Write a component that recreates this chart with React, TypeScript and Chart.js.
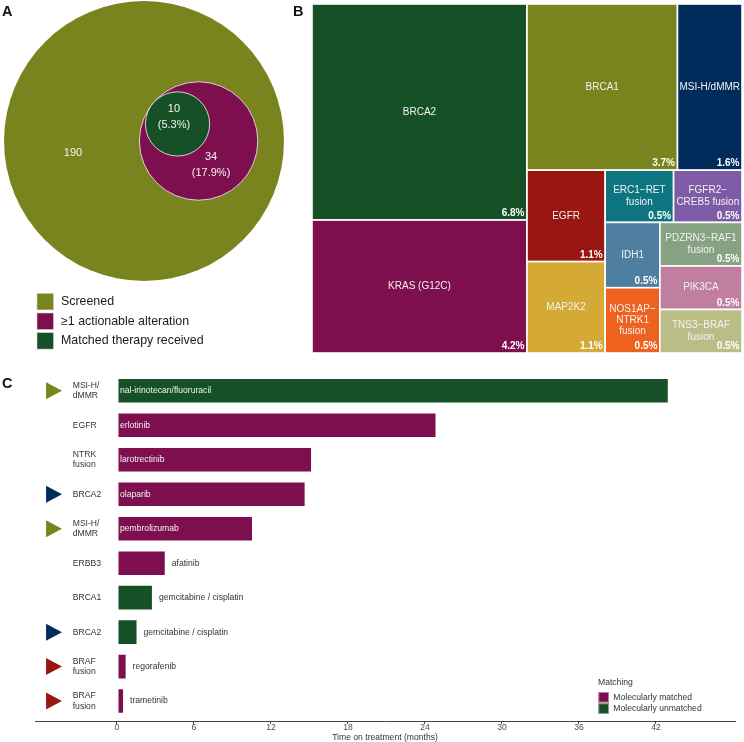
import React, { useEffect, useRef } from 'react';
import { Chart, registerables } from 'chart.js';

Chart.register(...registerables);

const FONT = '"Liberation Sans", Arial, Helvetica, sans-serif';
Chart.defaults.font.family = FONT;

// ---------------- Panel A data ----------------
const vennNames = ['Screened', '≥1 actionable alteration', 'Matched therapy received'];
const vennCounts = [190, 34, 10];
const vennColors = ['#7A841F', '#7E0F4F', '#165027'];

// ---------------- Panel B data ----------------
const treeNames = [
  'BRCA2', 'KRAS (G12C)', 'BRCA1', 'MSI-H/dMMR', 'EGFR', 'MAP2K2',
  'ERC1−RET\nfusion', 'FGFR2−\nCREB5 fusion', 'IDH1', 'NOS1AP−\nNTRK1\nfusion',
  'PDZRN3−RAF1\nfusion', 'PIK3CA', 'TNS3−BRAF\nfusion',
];
const treeCounts = [13, 8, 7, 3, 2, 2, 1, 1, 1, 1, 1, 1, 1];
const treeColors = [
  '#165027', '#7E0F4F', '#7A841F', '#002C5C', '#9A1612', '#D5A936',
  '#0C7580', '#7D5BA6', '#4E7FA1', '#EF611F', '#86A283', '#C07FA0', '#BABE86',
];

// ---------------- Panel C data ----------------
const rowGenes = ['MSI-H/\ndMMR', 'EGFR', 'NTRK\nfusion', 'BRCA2', 'MSI-H/\ndMMR', 'ERBB3', 'BRCA1', 'BRCA2', 'BRAF\nfusion', 'BRAF\nfusion'];
const rowTherapies = ['nal-irinotecan/fluoruracil', 'erlotinib', 'larotrectinib', 'olaparib', 'pembrolizumab', 'afatinib', 'gemcitabine / cisplatin', 'gemcitabine / cisplatin', 'regorafenib', 'trametinib'];
const rowMonths = [43.0, 24.9, 15.2, 14.7, 10.6, 3.8, 2.8, 1.6, 0.75, 0.55];
const rowMatching = ['unmatched', 'matched', 'matched', 'matched', 'matched', 'matched', 'unmatched', 'unmatched', 'matched', 'matched'];
const rowMarkers = ['MSI-H/dMMR', '', '', 'BRCA2', 'MSI-H/dMMR', '', '', 'BRCA2', 'BRAF', 'BRAF'];
const markerColors: Record<string, string> = { 'MSI-H/dMMR': '#7A841F', BRCA2: '#002C5C', BRAF: '#9A1612' };
const xTicks = [0, 6, 12, 18, 24, 30, 36, 42];
const matchNames = ['Molecularly matched', 'Molecularly unmatched'];
const matchColors: Record<string, string> = { matched: '#7E0F4F', unmatched: '#165027' };

// ---------------- layout constants ----------------
const VENN_INNER_OFFSET = 0.39;
const VENN_TOUCH_ANGLE = (141 * Math.PI) / 180;
const VENN_LABEL_POS = [
  { x: -0.507, y: -0.086 },
  { x: 0.479, y: -0.171 },
  { x: 0.214, y: 0.171 },
];
const C_X_MIN = -6.39;
const C_X_MAX = 48.16;
const C_GENE_X = -3.45;
const C_MARK_X0 = -5.53;
const C_MARK_X1 = -4.29;
const C_INSIDE_MIN = 10;

function panelLetter(ctx: CanvasRenderingContext2D, t: string, x: number, y: number) {
  ctx.save();
  ctx.font = `bold 14.5px ${FONT}`;
  ctx.fillStyle = '#111';
  ctx.textAlign = 'left';
  ctx.textBaseline = 'middle';
  ctx.fillText(t, x, y);
  ctx.restore();
}

function squarify(values: number[], x: number, y: number, w: number, h: number) {
  const total = values.reduce((a, b) => a + b, 0);
  const areas = values.map((v) => (v / total) * w * h);
  const out: { x: number; y: number; w: number; h: number }[] = [];
  let i = 0;
  while (i < areas.length) {
    const side = Math.min(w, h);
    const meanAspect = (row: number[]) => {
      const s = row.reduce((a, b) => a + b, 0);
      const t = s / side;
      return row.reduce((acc, a) => {
        const l = a / t;
        return acc + Math.max(l / t, t / l);
      }, 0) / row.length;
    };
    let row = [areas[i]];
    let best = meanAspect(row);
    let j = i + 1;
    while (j < areas.length) {
      const cand = row.concat(areas[j]);
      const r = meanAspect(cand);
      if (r <= best) {
        row = cand;
        best = r;
        j++;
      } else break;
    }
    const s = row.reduce((a, b) => a + b, 0);
    const t = s / side;
    const vertical = w >= h;
    let off = 0;
    row.forEach((a) => {
      const l = a / t;
      if (vertical) out.push({ x, y: y + off, w: t, h: l });
      else out.push({ x: x + off, y, w: l, h: t });
      off += l;
    });
    if (vertical) {
      x += t;
      w -= t;
    } else {
      y += t;
      h -= t;
    }
    i = j;
  }
  return out;
}

function PanelA() {
  const ref = useRef<HTMLCanvasElement>(null);
  useEffect(() => {
    const total = vennCounts[0];
    const radii = vennCounts.map((n) => Math.sqrt(n / total));
    const c1 = { x: VENN_INNER_OFFSET, y: 0 };
    const d = radii[1] - radii[2];
    const c2 = { x: c1.x + d * Math.cos(VENN_TOUCH_ANGLE), y: c1.y + d * Math.sin(VENN_TOUCH_ANGLE) };
    const centers = [{ x: 0, y: 0 }, c1, c2];

    const labelsPlugin = {
      id: 'vennLabels',
      afterDatasetsDraw(chart: any) {
        const ctx = chart.ctx as CanvasRenderingContext2D;
        const xs = chart.scales.x;
        const ys = chart.scales.y;
        ctx.save();
        ctx.fillStyle = '#F4F4F4';
        ctx.font = `11px ${FONT}`;
        ctx.textAlign = 'center';
        ctx.textBaseline = 'middle';
        vennCounts.forEach((n, i) => {
          const px = xs.getPixelForValue(VENN_LABEL_POS[i].x);
          const py = ys.getPixelForValue(VENN_LABEL_POS[i].y);
          if (i === 0) {
            ctx.fillText(String(n), px, py);
          } else {
            const pct = `(${((n / total) * 100).toFixed(1)}%)`;
            ctx.fillText(String(n), px, py - 8);
            ctx.fillText(pct, px, py + 8);
          }
        });
        // legend
        ctx.textAlign = 'left';
        ctx.font = `12.4px ${FONT}`;
        vennNames.forEach((name, i) => {
          const yc = 301.7 + i * 19.6;
          ctx.fillStyle = vennColors[i];
          ctx.fillRect(37, yc - 8.3, 16.5, 16.5);
          ctx.strokeStyle = '#D0D0D0';
          ctx.lineWidth = 0.6;
          ctx.strokeRect(37, yc - 8.3, 16.5, 16.5);
          ctx.fillStyle = '#1A1A1A';
          ctx.fillText(name, 61, yc);
        });
        ctx.restore();
        panelLetter(ctx, 'A', 2, 12);
      },
    };

    const chart = new Chart(ref.current as HTMLCanvasElement, {
      type: 'bubble',
      data: {
        datasets: vennCounts.map((n, i) => ({
          label: vennNames[i],
          data: [{ x: centers[i].x, y: centers[i].y, r: 0 }],
          backgroundColor: vennColors[i],
          borderColor: i === 0 ? vennColors[0] : 'rgba(235,235,235,0.85)',
          borderWidth: i === 0 ? 0 : 1,
          order: 3 - i,
          clip: false,
        })) as any,
      },
      options: {
        animation: false,
        responsive: false,
        events: [],
        layout: { autoPadding: false, padding: { left: 4, top: 1, right: 16, bottom: 79 } },
        plugins: { legend: { display: false }, tooltip: { enabled: false } },
        scales: {
          x: { type: 'linear', min: -1, max: 1, display: false },
          y: { type: 'linear', min: -1, max: 1, display: false },
        },
      },
      plugins: [labelsPlugin],
    });
    // radius in pixels derived from the data scale (1 unit = outer radius)
    const ppu = chart.scales.x.getPixelForValue(1) - chart.scales.x.getPixelForValue(0);
    chart.data.datasets.forEach((ds: any, i: number) => {
      ds.data[0].r = radii[i] * ppu;
    });
    chart.update();
    return () => chart.destroy();
  }, []);
  return <canvas ref={ref} width={300} height={360} style={{ position: 'absolute', left: 0, top: 0 }} />;
}

function PanelB() {
  const ref = useRef<HTMLCanvasElement>(null);
  useEffect(() => {
    const total = vennCounts[0];
    const treemapPlugin = {
      id: 'treemap',
      afterDatasetsDraw(chart: any) {
        const ctx = chart.ctx as CanvasRenderingContext2D;
        const xs = chart.scales.x;
        const ys = chart.scales.y;
        const x0 = xs.getPixelForValue(0);
        const x1 = xs.getPixelForValue(1);
        const y0 = ys.getPixelForValue(1);
        const y1 = ys.getPixelForValue(0);
        const rects = squarify(treeCounts, x0, y0, x1 - x0, y1 - y0);
        ctx.save();
        rects.forEach((r, i) => {
          ctx.fillStyle = treeColors[i];
          ctx.fillRect(r.x, r.y, r.w, r.h);
          ctx.strokeStyle = '#FFFFFF';
          ctx.lineWidth = 1.6;
          ctx.strokeRect(r.x, r.y, r.w, r.h);
          // name
          ctx.fillStyle = '#F2F2F2';
          ctx.font = `10px ${FONT}`;
          ctx.textAlign = 'center';
          ctx.textBaseline = 'middle';
          const lines = treeNames[i].split('\n');
          const lh = 11.2;
          lines.forEach((ln, k) => {
            ctx.fillText(ln, r.x + r.w / 2, r.y + r.h / 2 + (k - (lines.length - 1) / 2) * lh);
          });
          // percent
          ctx.font = `bold 10px ${FONT}`;
          ctx.textAlign = 'right';
          ctx.textBaseline = 'bottom';
          ctx.fillStyle = '#FFFFFF';
          ctx.fillText(`${((treeCounts[i] / total) * 100).toFixed(1)}%`, r.x + r.w - 2.5, r.y + r.h - 1.5);
        });
        ctx.restore();
        panelLetter(ctx, 'B', 5, 12);
      },
    };
    const chart = new Chart(ref.current as HTMLCanvasElement, {
      type: 'scatter',
      data: { datasets: [] },
      options: {
        animation: false,
        responsive: false,
        events: [],
        layout: { padding: { left: 24, top: 4, right: 2, bottom: 7 } },
        plugins: { legend: { display: false }, tooltip: { enabled: false } },
        scales: {
          x: { type: 'linear', min: 0, max: 1, display: false },
          y: { type: 'linear', min: 0, max: 1, display: false },
        },
      },
      plugins: [treemapPlugin],
    });
    return () => chart.destroy();
  }, []);
  return <canvas ref={ref} width={456} height={360} style={{ position: 'absolute', left: 288, top: 0 }} />;
}

function PanelC() {
  const ref = useRef<HTMLCanvasElement>(null);
  useEffect(() => {
    const annotPlugin = {
      id: 'annot',
      afterDatasetsDraw(chart: any) {
        const ctx = chart.ctx as CanvasRenderingContext2D;
        const xs = chart.scales.x;
        const ys = chart.scales.y;
        ctx.save();
        rowMonths.forEach((v, i) => {
          const yc = ys.getPixelForValue(i);
          // gene label
          ctx.font = `8.6px ${FONT}`;
          ctx.fillStyle = '#333333';
          ctx.textAlign = 'left';
          ctx.textBaseline = 'middle';
          const lines = rowGenes[i].split('\n');
          lines.forEach((ln, k) => {
            ctx.fillText(ln, xs.getPixelForValue(C_GENE_X), yc + (k - (lines.length - 1) / 2) * 10.3);
          });
          // marker
          const m = rowMarkers[i];
          if (m) {
            const mx0 = xs.getPixelForValue(C_MARK_X0);
            const mx1 = xs.getPixelForValue(C_MARK_X1);
            ctx.fillStyle = markerColors[m];
            ctx.beginPath();
            ctx.moveTo(mx0, yc - 8.5);
            ctx.lineTo(mx1, yc);
            ctx.lineTo(mx0, yc + 8.5);
            ctx.closePath();
            ctx.fill();
          }
          // therapy label
          const inside = v >= C_INSIDE_MIN;
          ctx.fillStyle = inside ? '#F4F4F4' : '#333333';
          const tx = inside ? xs.getPixelForValue(0) + 3 : xs.getPixelForValue(v) + 6;
          ctx.fillText(rowTherapies[i], tx, yc);
        });
        // legend
        ctx.font = `8.6px ${FONT}`;
        ctx.fillStyle = '#333333';
        ctx.textAlign = 'left';
        ctx.textBaseline = 'middle';
        ctx.fillText('Matching', 598, 323);
        ['matched', 'unmatched'].forEach((k, i) => {
          const top = 332 + i * 11.3;
          ctx.fillStyle = matchColors[k];
          ctx.fillRect(598.3, top, 10.7, 10.6);
          ctx.strokeStyle = 'rgba(255,255,255,0.45)';
          ctx.lineWidth = 1;
          ctx.strokeRect(598.8, top + 0.5, 9.7, 9.6);
          ctx.fillStyle = '#333333';
          ctx.fillText(matchNames[i], 613.3, top + 5.5);
        });
        ctx.restore();
        panelLetter(ctx, 'C', 2, 23.5);
      },
    };

    const chart = new Chart(ref.current as HTMLCanvasElement, {
      type: 'bar',
      data: {
        datasets: [
          {
            data: rowMonths.map((v, i) => ({ x: v, y: i })),
            backgroundColor: rowMatching.map((m) => matchColors[m]),
            borderColor: 'rgba(255,255,255,0.42)',
            borderWidth: 1,
            borderSkipped: false,
            barPercentage: 0.74,
            categoryPercentage: 1,
          } as any,
        ],
      },
      options: {
        indexAxis: 'y',
        animation: false,
        responsive: false,
        events: [],
        layout: { padding: { left: 35, right: 9, top: 10, bottom: 0 } },
        plugins: { legend: { display: false }, tooltip: { enabled: false } },
        scales: {
          y: {
            type: 'linear',
            offset: false,
            grid: { offset: false },
            min: -0.6,
            max: rowMonths.length - 1 + 0.6,
            reverse: true,
            display: false,
            afterBuildTicks: (axis: any) => {
              axis.ticks = rowMonths.map((_, i) => ({ value: i }));
            },
          },
          x: {
            type: 'linear',
            min: C_X_MIN,
            max: C_X_MAX,
            afterBuildTicks: (axis: any) => {
              axis.ticks = xTicks.map((v) => ({ value: v }));
            },
            grid: { display: true, drawOnChartArea: false, drawTicks: true, tickLength: 2, color: '#333333', lineWidth: 1 },
            border: { display: true, color: '#444444', width: 1 },
            ticks: { padding: 0, color: '#4D4D4D', font: { size: 8.6, lineHeight: 1 }, maxRotation: 0, autoSkip: false },
            title: {
              display: true,
              text: 'Time on treatment (months)',
              color: '#333333',
              font: { size: 8.6, lineHeight: 1 },
              padding: { top: 1, bottom: 0 },
            },
          },
        },
      },
      plugins: [annotPlugin],
    });
    return () => chart.destroy();
  }, []);
  return <canvas ref={ref} width={744} height={382} style={{ position: 'absolute', left: 0, top: 360 }} />;
}

export default function App() {
  return (
    <div style={{ position: 'fixed', left: 0, top: 0, width: 744, height: 742, overflow: 'hidden', background: '#FFFFFF' }}>
      <PanelA />
      <PanelB />
      <PanelC />
    </div>
  );
}
